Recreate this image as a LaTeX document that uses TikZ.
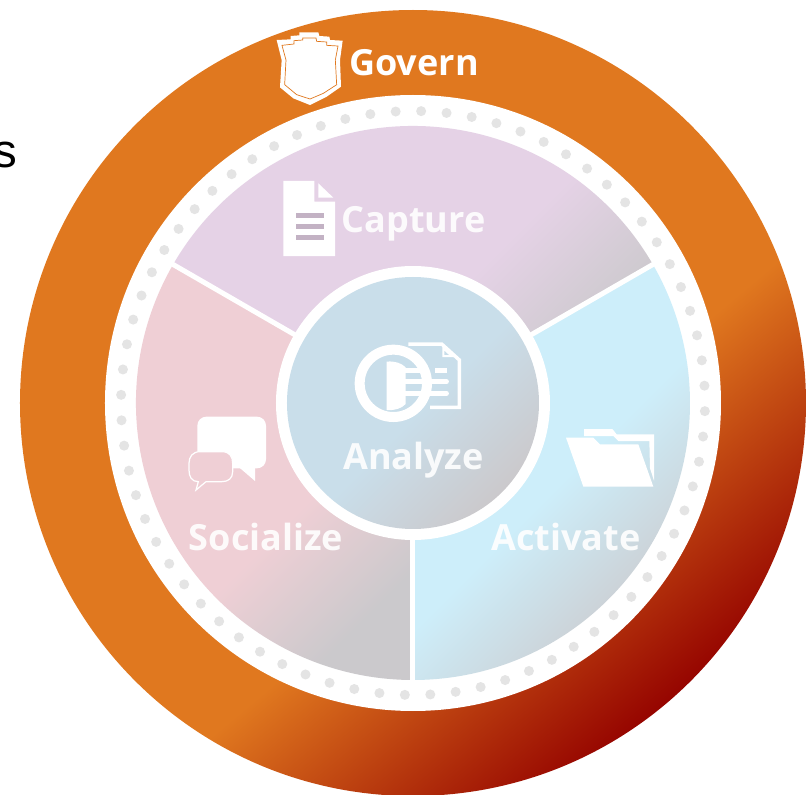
\documentclass[tikz,border=0pt]{standalone}
\usepackage{fontspec}
\setmainfont{Liberation Sans}
\newfontfamily\labelfont{Open Sans}
\definecolor{ringorange}{HTML}{E0781F}
\definecolor{ringred}{HTML}{960500}
\definecolor{dotgrey}{HTML}{E4E4E4}
\definecolor{captureback}{HTML}{E5D2E6}
\definecolor{socialback}{HTML}{EFCFD5}
\definecolor{activeback}{HTML}{CDEEFA}
\definecolor{analyzeback}{HTML}{C9DEEA}
\definecolor{sectorgrey}{HTML}{CBC9CC}
\pgfdeclarehorizontalshading{ringshade}{100bp}{color(0bp)=(ringorange); color(58bp)=(ringorange); color(75bp)=(ringred); color(100bp)=(ringred)}
\pgfdeclarehorizontalshading{captureshade}{100bp}{color(0bp)=(captureback); color(58bp)=(captureback); color(75bp)=(sectorgrey); color(100bp)=(sectorgrey)}
\pgfdeclarehorizontalshading{socialshade}{100bp}{color(0bp)=(socialback); color(58bp)=(socialback); color(75bp)=(sectorgrey); color(100bp)=(sectorgrey)}
\pgfdeclarehorizontalshading{activeshade}{100bp}{color(0bp)=(activeback); color(52bp)=(activeback); color(75bp)=(sectorgrey); color(100bp)=(sectorgrey)}
\pgfdeclarehorizontalshading{analyzeshade}{100bp}{color(0bp)=(analyzeback); color(52bp)=(analyzeback); color(75bp)=(sectorgrey); color(100bp)=(sectorgrey)}
\tikzset{
  ringlabel/.style={text=white, font=\labelfont\bfseries\fontsize{20.5}{24}\selectfont, inner sep=0pt},
  iconscale/.style={x=0.00667cm, y=-0.00667cm},
  sectorline/.style={draw=white, line width=1mm}
}

\begin{document}
\begin{tikzpicture}
	\useasboundingbox (-8.26, -7.84) rectangle (7.92, 8.06);
	%%%%% RINGS %%%%%
	\shade[shading=ringshade, shading angle=-50] (0, 0) circle (7.86);
	\fill[white] (0, 0) circle (6.16);
	\foreach \a in {0,...,71}
		\fill[dotgrey] (\a*5+3.4:5.84) circle (0.1);

	%%%%% SECTORS %%%%%
	\shade[shading=captureshade, shading angle=-45] (0, 0) -- (30:5.54) arc (30:150:5.54) -- cycle;
	\shade[shading=socialshade, shading angle=-45] (0, 0) -- (150:5.54) arc (150:270:5.54) -- cycle;
	\shade[shading=activeshade, shading angle=-45] (0, 0) -- (270:5.54) arc (270:390:5.54) -- cycle;
	\draw[sectorline] (0, 0) -- (30:5.6);
	\draw[sectorline] (0, 0) -- (150:5.6);
	\draw[sectorline] (0, 0) -- (270:5.6);
	\fill[white] (0, 0) circle (2.74);
	\shade[shading=analyzeshade, shading angle=-45] (0, 0) circle (2.52);

	%%%%% SHIELD %%%%%
	\begin{scope}[shift={(-3.06, 8.06)}, iconscale]
		\fill[white] (50,120) -- (92,118) -- (92,108) -- (118,106) -- (118,97) -- (175,97) -- (178,108) -- (208,110) -- (210,120) -- (248,122) -- (240,180) -- (243,260) -- (200,290) -- (150,315) -- (100,295) -- (60,262) -- (65,180) -- cycle;
		\draw[ringorange, line width=0.4pt, fill=white] (66,136) -- (102,132) -- (102,122) -- (128,120) -- (128,114) -- (168,114) -- (170,124) -- (200,126) -- (200,136) -- (234,138) -- (226,180) -- (230,254) -- (190,280) -- (150,297) -- (110,284) -- (74,254) -- (78,180) -- cycle;
	\end{scope}

	%%%%% PAGE %%%%%
	\begin{scope}[shift={(-2.86, 4.66)}, iconscale]
		\fill[white] (40,33) -- (133,33) -- (133,95) -- (195,95) -- (195,258) -- (40,258) -- cycle;
		\fill[white] (145,40) -- (190,83) -- (145,83) -- cycle;
		\fill[captureback!85!black] (77,130) rectangle (163,143);
		\fill[captureback!85!black] (77,163) rectangle (163,176);
		\fill[captureback!85!black] (77,196) rectangle (163,209);
	\end{scope}

	%%%%% LENS %%%%%
	\begin{scope}[shift={(-1.46, 1.46)}, iconscale]
		\draw[white, line width=0.7mm] (205,42) -- (305,42) -- (358,90) -- (358,232) -- (270,232);
		\draw[white, line width=0.4mm] (310,55) -- (335,78) -- (310,78) -- cycle;
		\draw[white, line width=2mm] (160,160) circle (101);
		\fill[white] (140,95) .. controls (165,92) and (185,100) .. (197,112) -- (197,222) .. controls (185,235) and (165,242) .. (140,240) -- cycle;
		\draw[white, line width=0.9mm, line cap=round] (197,122) -- (248,122);
		\draw[white, line width=0.9mm, line cap=round] (197,155) -- (320,155);
		\draw[white, line width=0.9mm, line cap=round] (197,190) -- (320,190);
		\draw[white, line width=0.9mm] (285,122) -- (320,122);
	\end{scope}

	%%%%% BUBBLES %%%%%
	\begin{scope}[shift={(-4.86, 0.06)}, iconscale]
		\fill[white, rounded corners=1.8mm] (82,50) rectangle (288,205);
		\fill[white] (205,200) -- (255,243) -- (255,200) -- cycle;
		\draw[white, line width=0.7pt, fill=socialback] (90,155) -- (155,155) .. controls (180,155) and (188,170) .. (188,190) -- (188,215) .. controls (188,235) and (175,245) .. (155,245) -- (108,245) -- (78,270) -- (85,245) .. controls (65,245) and (57,230) .. (57,210) -- (57,190) .. controls (57,170) and (68,155) .. (90,155) -- cycle;
	\end{scope}

	%%%%% FOLDER %%%%%
	\begin{scope}[shift={(2.74, -0.14)}, iconscale]
		\fill[white] (102,57) -- (187,57) -- (200,73) -- (312,73) -- (312,212) -- (300,175) -- (298,93) -- (205,93) -- (190,78) -- (102,78) -- cycle;
		\fill[white] (48,83) -- (130,83) -- (150,103) -- (265,103) -- (310,230) -- (100,230) -- cycle;
	\end{scope}

	%%%%% LABELS %%%%%
	\node[ringlabel] (govern) at (0.02, 6.81) {Govern};
	\node[ringlabel, text opacity=0.9] (capture) at (0.01, 3.58) {Capture};
	\node[ringlabel, text opacity=0.9] (analyze) at (0.01, -1.14) {Analyze};
	\node[ringlabel, text opacity=0.9] (socialize) at (-2.94, -2.68) {Socialize};
	\node[ringlabel, text opacity=0.9] (activate) at (3.06, -2.68) {Activate};
	\node[anchor=base east, inner sep=0pt, font=\fontsize{27}{30}\selectfont] (cutoff) at (-7.9, 4.7) {s};
\end{tikzpicture}
\end{document}
